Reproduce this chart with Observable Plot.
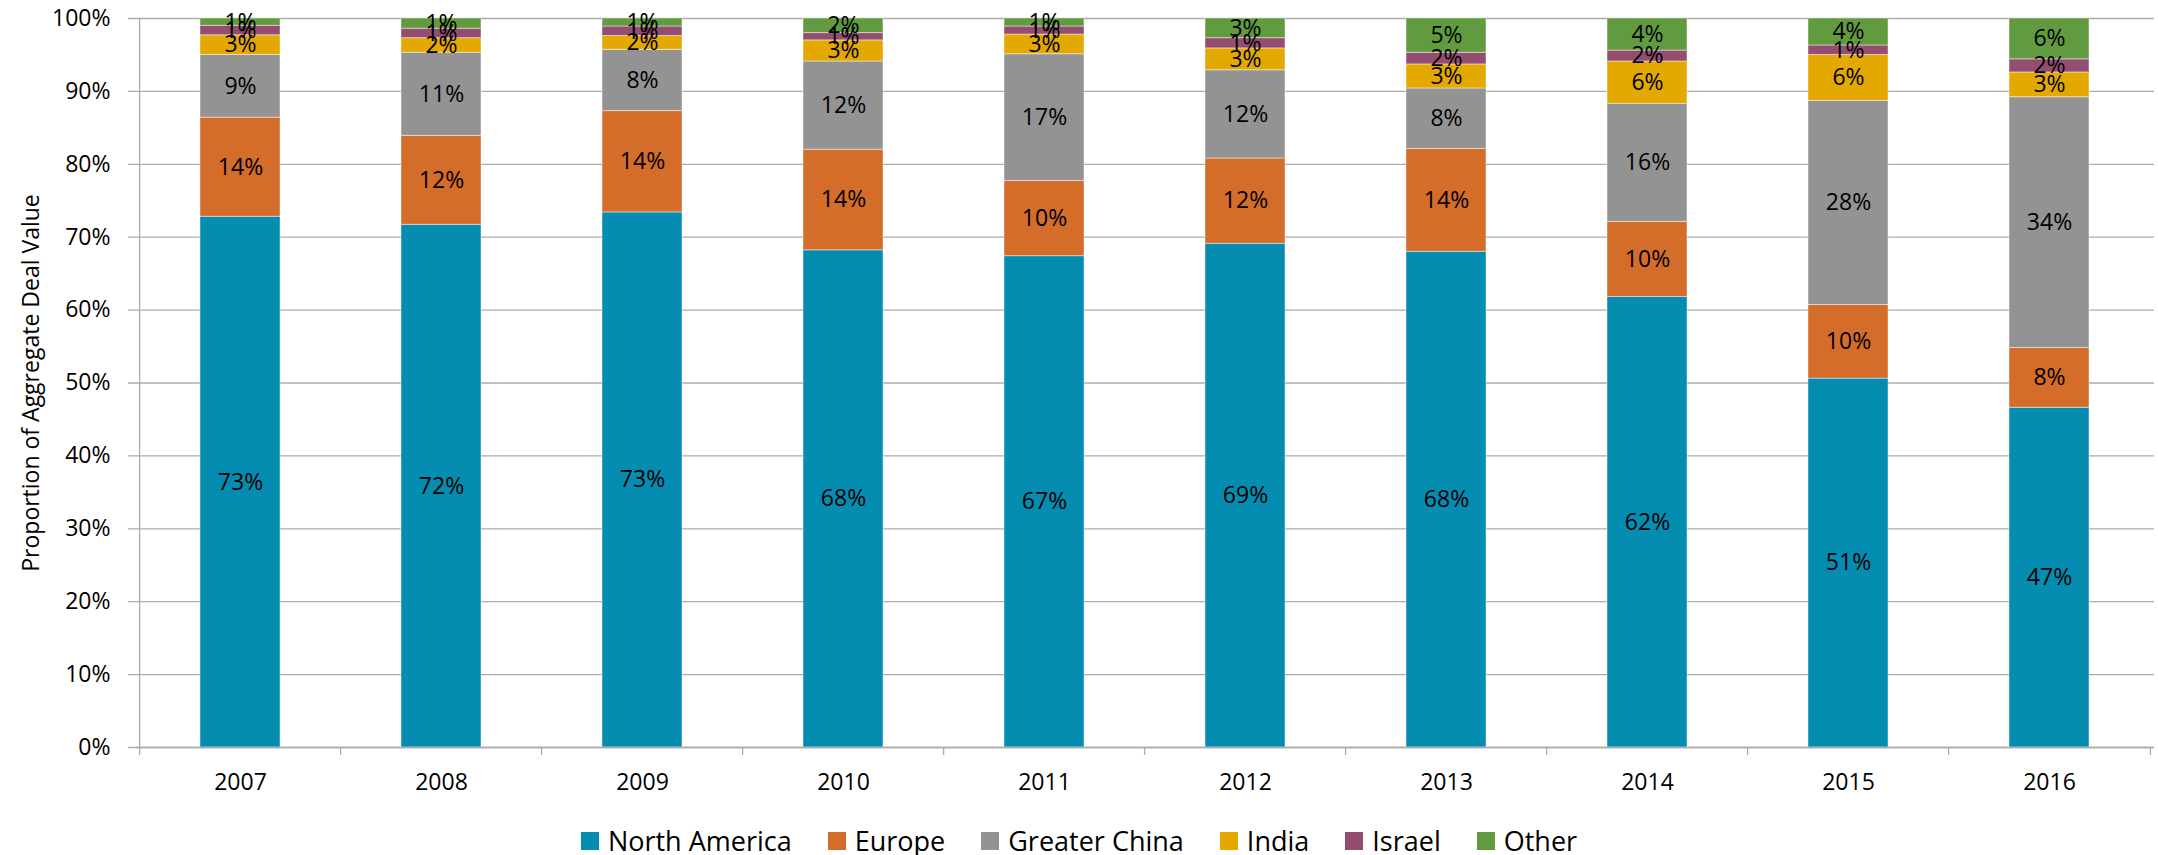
<!DOCTYPE html>
<html><head><meta charset="utf-8">
<script src="https://cdn.jsdelivr.net/npm/d3@7"></script>
<script src="https://cdn.jsdelivr.net/npm/@observablehq/plot@0.6"></script>
<style>
body{margin:0;background:#fff;font-family:"Open Sans",sans-serif;}
#chart svg{display:block}
#legend{display:flex;justify-content:center;gap:36px;padding-top:27px;height:28px;font-size:27px;line-height:26px;color:#000;font-family:"Open Sans",sans-serif;}
.item{display:flex;align-items:center;white-space:nowrap;}
.sw{width:18px;height:18px;margin-right:9px;flex:none;}
</style></head><body>
<div id="chart"></div><div id="legend"></div>
<script>
const years = ["2007","2008","2009","2010","2011","2012","2013","2014","2015","2016"];
const regions = ["North America","Europe","Greater China","India","Israel","Other"];
const colors = ["#058db1","#d46c2a","#939393","#e4a900","#944d70","#629b3f"];
const northAmerica = [72.8,71.7,73.4,68.2,67.4,69.1,68.0,61.8,50.6,46.6];
const europe       = [13.6,12.2,13.9,13.8,10.3,11.7,14.1,10.3,10.1,8.2];
const greaterChina = [8.6,11.4,8.4,12.1,17.4,12.1,8.3,16.2,28.0,34.4];
const india        = [2.7,2.0,1.9,2.9,2.7,3.0,3.3,5.8,6.3,3.4];
const israel       = [1.3,1.3,1.3,1.0,1.1,1.4,1.6,1.5,1.3,1.8];
const other        = [1.0,1.4,1.1,2.0,1.1,2.7,4.7,4.4,3.7,5.6];
const yTicks = [0,10,20,30,40,50,60,70,80,90,100];
const yTitle = "Proportion of Aggregate Deal Value";

const series = [northAmerica, europe, greaterChina, india, israel, other];
const rows = regions.flatMap((r, i) => years.map((y, j) => ({year: y, region: r, value: series[i][j]})));

const W = 2158, H = 800, mL = 136, mR = 4, mT = 18, mB = 53;
const plotH = H - mT - mB;
const step = (W - mL - mR) / years.length;
const grid = "#ababab";
const fs = 23;

const chart = Plot.plot({
  width: W, height: H,
  marginLeft: mL, marginRight: mR, marginTop: mT, marginBottom: mB,
  style: {fontFamily: "Open Sans, sans-serif", fontSize: fs + "px", background: "white", color: "black"},
  x: {domain: years, paddingInner: 0.6, paddingOuter: 0.3},
  y: {domain: [0, 100]},
  color: {domain: regions, range: colors},
  marks: [
    Plot.ruleY(yTicks, {stroke: grid, strokeWidth: 1.3, insetLeft: -8}),
    Plot.barY(rows, Plot.stackY({x: "year", y: "value", z: "region", fill: "region", order: regions, stroke: "white", strokeOpacity: 0.45, strokeWidth: 1})),
    Plot.ruleX([years[0]], {dx: -step / 2, stroke: grid, strokeWidth: 1.3, insetBottom: -8}),
    Plot.ruleX(years.slice(1), {dx: -step / 2, stroke: grid, strokeWidth: 1.3, insetTop: plotH, insetBottom: -8}),
    Plot.ruleX([years[years.length - 1]], {dx: step / 2, stroke: grid, strokeWidth: 1.3, insetTop: plotH, insetBottom: -8}),
    Plot.ruleY([0], {stroke: grid, strokeWidth: 1.3}),
    Plot.text(rows, Plot.stackY({x: "year", y: "value", z: "region", order: regions, text: d => Math.round(d.value) + "%", fontSize: fs, fill: "black"})),
    Plot.axisY({ticks: yTicks, tickSize: 0, tickPadding: 26, tickFormat: d => d + "%", fontSize: fs, label: null}),
    Plot.axisX({tickSize: 0, tickPadding: 26, fontSize: fs, label: null}),
    Plot.text([yTitle], {frameAnchor: "left", textAnchor: "middle", lineAnchor: "middle", rotate: -90, dx: -105, fontSize: fs, fill: "black"})
  ]
});
document.getElementById("chart").appendChild(chart);

const legend = document.getElementById("legend");
regions.forEach((r, i) => {
  const it = document.createElement("div"); it.className = "item";
  const sw = document.createElement("div"); sw.className = "sw"; sw.style.background = colors[i];
  const t = document.createElement("span"); t.textContent = r;
  it.appendChild(sw); it.appendChild(t); legend.appendChild(it);
});
</script>
</body></html>
